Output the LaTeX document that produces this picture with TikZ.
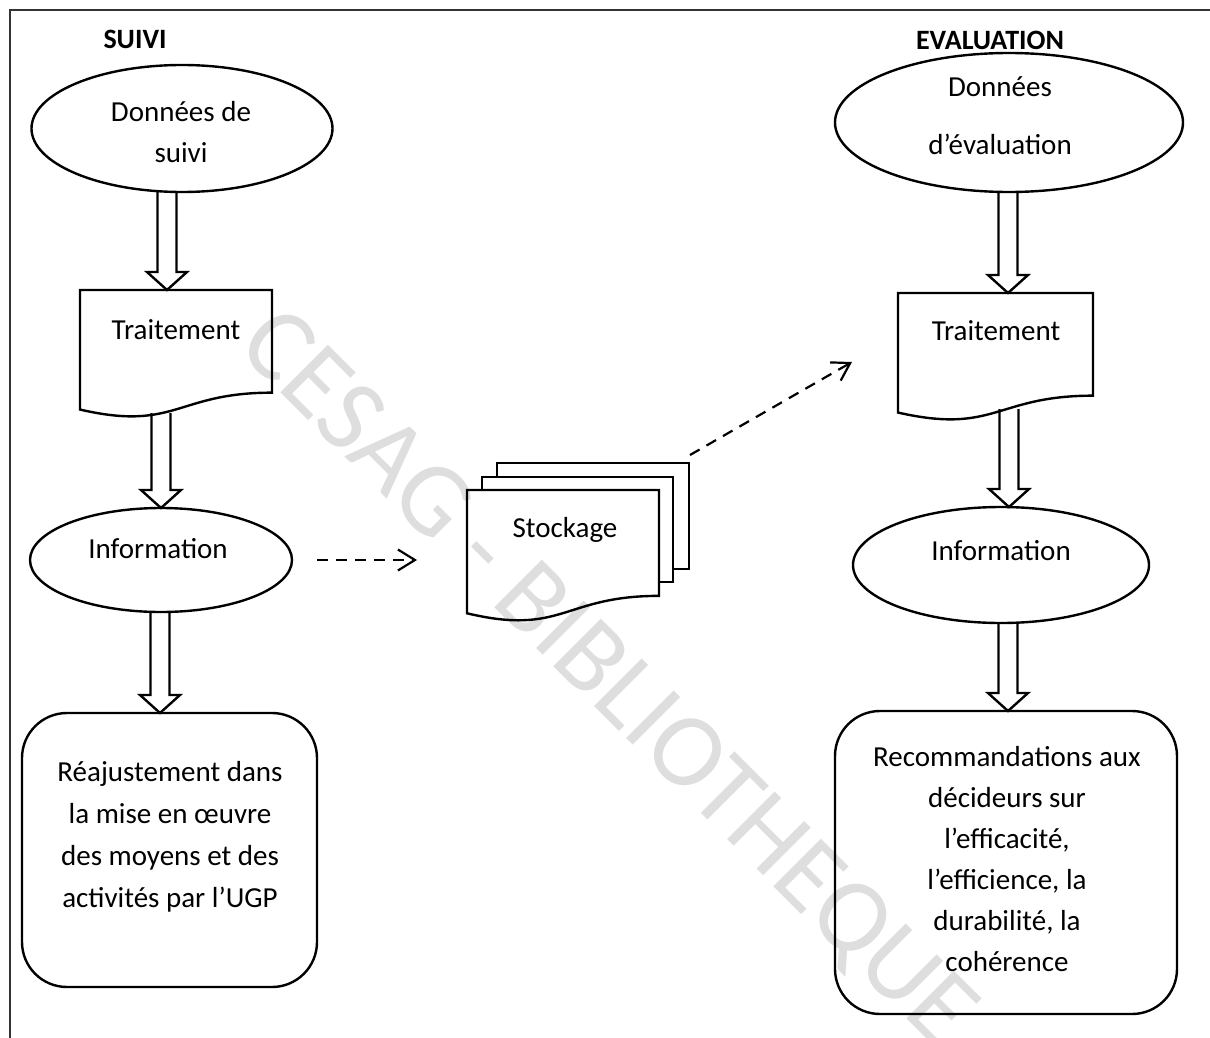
\documentclass[tikz,border=0pt]{standalone}
\usepackage{fontspec}
\setmainfont{Carlito}
\usetikzlibrary{shapes.geometric,arrows.meta,calc}

% hollow block arrow: #1 = x position, #2 = start point, #3 = tip point
\newcommand\hollowarrow[3]{%
  \draw[blockarrow] let \p1=#2, \p2=#3 in
    (#1pt-9.5pt,\y1) -- (#1pt-9.5pt,\y2+18pt) -- (#1pt-20pt,\y2+18pt) --
    (#1pt,\y2) -- (#1pt+20pt,\y2+18pt) -- (#1pt+9.5pt,\y2+18pt) -- (#1pt+9.5pt,\y1);}

% document outline with a wavy bottom, drawn on the box of node #1
\newcommand\docoutline[1]{%
  \draw[outline] let \p1=(#1.north west), \p2=(#1.south east), \n1={\y1-\y2} in
    (\x1,\y1) -- (\x2,\y1) -- (\x2,\y1-0.802*\n1)
    .. controls ({(\x1+\x2)/2},\y1-0.802*\n1) and ({(\x1+\x2)/2},\y1-1.107*\n1) ..
    (\x1,\y1-0.934*\n1) -- cycle;}

\begin{document}
\begin{tikzpicture}[x=1pt,y=-1pt,
  outline/.style={draw=black,line width=2.4pt,line join=miter},
  blockarrow/.style={draw=black,line width=2.4pt,line join=miter},
  oval/.style={ellipse,draw=black,line width=2.4pt,inner sep=0pt,outer sep=0pt},
  roundbox/.style={rectangle,draw=black,line width=2.4pt,rounded corners=45pt,inner sep=0pt,outer sep=0pt},
  docbox/.style={rectangle,inner sep=0pt,outer sep=0pt},
  txt/.style={inner sep=0pt,align=center,font=\fontsize{29}{41}\selectfont},
  heading/.style={inner sep=0pt,font=\fontsize{28}{34}\selectfont\bfseries},
  dasharrow/.style={draw=black,line width=2.2pt,dash pattern=on 11pt off 8pt,
    -{Straight Barb[length=17pt,width=21pt,line width=2.2pt]}},
  frameline/.style={draw=black!80,line width=1.6pt},
  watermark/.style={inner sep=0pt,text=black!13,font=\fontsize{105}{115}\selectfont}
]
\useasboundingbox (0,0) rectangle (1210,1038);

% background stamp
\node[watermark,rotate=-45] (wm) at (606,680) {CESAG - BIBLIOTHEQUE};

% page frame (top and left rules)
\coordinate (fTL) at (10,10);
\coordinate (fTR) at (1210,10);
\coordinate (fBL) at (10,1038);
\draw[frameline] (fTR) -- (fTL) -- (fBL);

% column headings
\node[heading,anchor=base] (hSuivi) at (135,49) {SUIVI};
\node[heading,anchor=base] (hEval) at (990,50) {EVALUATION};

% ---------- left column: monitoring ----------
\node[oval,minimum width=301pt,minimum height=127pt] (eL1) at (182,128.5) {};
\node[txt] (eL1t) at (181,132) {Données de\\suivi};

\node[docbox,minimum width=192pt,minimum height=128pt] (trtL) at (176,354) {};
\docoutline{trtL}
\node[txt,anchor=base] (trtLt) at (176,339) {Traitement};

\node[oval,minimum width=262pt,minimum height=104pt] (infoL) at (161,560) {};
\node[txt,anchor=base] (infoLt) at (158,558) {Information};

\node[roundbox,minimum width=295pt,minimum height=274pt] (boxL) at (169.5,850) {};
\node[txt,font=\fontsize{29}{42}\selectfont] (boxLt) at (170,837)
  {Réajustement dans\\la mise en œuvre\\des moyens et des\\activités par l’UGP};

\hollowarrow{167}{(eL1.south)}{(trtL.north)}
\hollowarrow{161}{($(trtL.south)+(0,-5)$)}{(infoL.north)}
\hollowarrow{160}{(infoL.south)}{(boxL.north)}

% ---------- centre: storage ----------
\node[docbox,minimum width=192pt,minimum height=106pt] (stockB) at (593,516) {};
\node[docbox,minimum width=191pt,minimum height=105pt] (stockM) at (577.5,529.5) {};
\node[docbox,minimum width=192pt,minimum height=132pt] (stockF) at (563,556) {};
\draw[outline] (stockB.north west |- stockM.north) -- (stockB.north west) -- (stockB.north east)
  -- (stockB.south east) -- (stockB.south east -| stockM.east);
\draw[outline] (stockM.north west |- stockF.north) -- (stockM.north west) -- (stockM.north east)
  -- (stockM.south east) -- (stockM.south east -| stockF.east);
\docoutline{stockF}
\node[txt,anchor=base] (stockT) at (565,537) {Stockage};

% ---------- right column: evaluation ----------
\node[oval,minimum width=348pt,minimum height=139pt] (eR1) at (1009,122.5) {};
\node[txt,font=\fontsize{29}{58}\selectfont] (eR1t) at (1000,116) {Données\\d’évaluation};

\node[docbox,minimum width=195pt,minimum height=128pt] (trtR) at (995.5,357) {};
\docoutline{trtR}
\node[txt,anchor=base] (trtRt) at (996,340) {Traitement};

\node[oval,minimum width=296pt,minimum height=116pt] (infoR) at (1001,565) {};
\node[txt,anchor=base] (infoRt) at (1001,560) {Information};

\node[roundbox,minimum width=342pt,minimum height=303pt] (boxR) at (1006,862.5) {};
\node[txt] (boxRt) at (1007,859)
  {Recommandations aux\\décideurs sur\\l’efficacité,\\l’efficience, la\\durabilité, la\\cohérence};

\hollowarrow{1008}{(eR1.south)}{(trtR.north)}
\hollowarrow{1009}{($(trtR.south)+(0,-12)$)}{(infoR.north)}
\hollowarrow{1008}{(infoR.south)}{(boxR.north)}

% ---------- dashed links through storage ----------
\draw[dasharrow] ($(infoL.east)+(25,0)$) -- ($(infoL.east -| stockF.west)+(-50,0)$);
\draw[dasharrow] ($(stockB.north east)+(1,-8)$) -- ($(trtR.west)+(-46,5)$);
\end{tikzpicture}
\end{document}
